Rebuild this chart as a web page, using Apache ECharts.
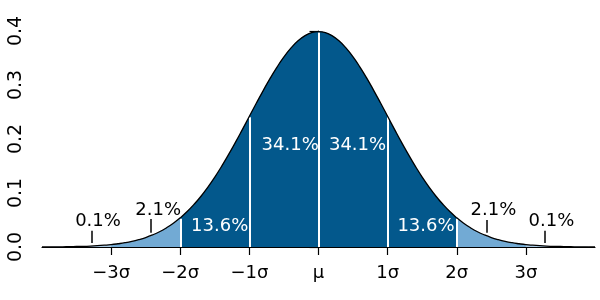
<!DOCTYPE html>
<html><head><meta charset="utf-8">
<script src="https://cdn.jsdelivr.net/npm/echarts@6/dist/echarts.min.js"></script>
<style>html,body{margin:0;padding:0;background:#fff}#c{width:600px;height:300px}</style>
</head><body><div id="c"></div>
<script>
// Curve samples (standard normal density), x in sigma units
const curveX = [-4.0,-3.9,-3.8,-3.7,-3.6,-3.5,-3.4,-3.3,-3.2,-3.1,-3.0,-2.9,-2.8,-2.7,-2.6,-2.5,-2.4,-2.3,-2.2,-2.1,-2.0,-1.9,-1.8,-1.7,-1.6,-1.5,-1.4,-1.3,-1.2,-1.1,-1.0,-0.9,-0.8,-0.7,-0.6,-0.5,-0.4,-0.3,-0.2,-0.1,0.0,0.1,0.2,0.3,0.4,0.5,0.6,0.7,0.8,0.9,1.0,1.1,1.2,1.3,1.4,1.5,1.6,1.7,1.8,1.9,2.0,2.1,2.2,2.3,2.4,2.5,2.6,2.7,2.8,2.9,3.0,3.1,3.2,3.3,3.4,3.5,3.6,3.7,3.8,3.9,4.0];
const curveY = [0.0001,0.0002,0.0003,0.0004,0.0006,0.0009,0.0012,0.0017,0.0024,0.0033,0.0044,0.0060,0.0079,0.0104,0.0136,0.0175,0.0224,0.0283,0.0355,0.0440,0.0540,0.0656,0.0790,0.0940,0.1109,0.1295,0.1497,0.1714,0.1942,0.2179,0.2420,0.2661,0.2897,0.3123,0.3332,0.3521,0.3683,0.3814,0.3910,0.3970,0.3989,0.3970,0.3910,0.3814,0.3683,0.3521,0.3332,0.3123,0.2897,0.2661,0.2420,0.2179,0.1942,0.1714,0.1497,0.1295,0.1109,0.0940,0.0790,0.0656,0.0540,0.0440,0.0355,0.0283,0.0224,0.0175,0.0136,0.0104,0.0079,0.0060,0.0044,0.0033,0.0024,0.0017,0.0012,0.0009,0.0006,0.0004,0.0003,0.0002,0.0001];

const xTickValues = [-3,-2,-1,0,1,2,3];
const xTickLabels = ['\u22123\u03c3','\u22122\u03c3','\u22121\u03c3','\u03bc','1\u03c3','2\u03c3','3\u03c3'];
const yTickValues = [0,0.1,0.2,0.3,0.4];
const dividerX = [-2,-1,0,1,2];

// percentage labels: [x, y, text]
const innerLabels = [[-0.41,0.189,'34.1%'],[0.565,0.189,'34.1%'],[-1.43,0.039,'13.6%'],[1.555,0.039,'13.6%']];
const outerLabels = [[-2.32,0.067,'2.1%'],[2.53,0.067,'2.1%'],[-3.19,0.047,'0.1%'],[3.37,0.047,'0.1%']];
// pointer ticks: [x, yTop, yBottom]
const pointers = [[-2.43,0.052,0.0265],[2.44,0.050,0.0265],[-3.28,0.030,0.0074],[3.28,0.030,0.0074]];

const DARK = '#03588c', LIGHT = '#72aad4', PALE = '#a9cbe6';
const FONT = 'DejaVu Sans';

function pts(lo, hi) {
  const out = [];
  curveX.forEach((x, i) => { if (x >= lo - 1e-9 && x <= hi + 1e-9) out.push([x, curveY[i]]); });
  return out;
}
function area(lo, hi, color) {
  return { type: 'line', data: pts(lo, hi), smooth: true, symbol: 'none', lineStyle: { width: 0 },
    areaStyle: { color: color, opacity: 1 }, silent: true, z: 2 };
}
const yAt = x => curveY[curveX.findIndex(v => Math.abs(v - x) < 1e-9)];
function labelSeries(list, color) {
  return { type: 'scatter', symbolSize: 1, z: 7, silent: true,
    itemStyle: { opacity: 0 },
    data: list.map(d => ({ value: [d[0], d[1]], name: d[2] })),
    label: { show: true, position: 'inside', formatter: p => p.name, color: color, opacity: 1,
      textBorderWidth: 0, fontFamily: FONT, fontSize: 18 } };
}

const chart = echarts.init(document.getElementById('c'), null, { renderer: 'canvas' });
chart.setOption({
  animation: false,
  grid: { left: 42, right: 5, top: 31, bottom: 53 },
  xAxis: {
    type: 'value', min: -4, max: 4, interval: 1,
    axisLine: { lineStyle: { color: '#000', width: 1.2 } },
    axisTick: { customValues: xTickValues, length: 8, lineStyle: { color: '#000', width: 1.2 } },
    axisLabel: { customValues: xTickValues, color: '#000', fontFamily: FONT, fontSize: 18, margin: 17,
      formatter: v => xTickLabels[xTickValues.indexOf(Math.round(v))] },
    splitLine: { show: false }
  },
  yAxis: {
    type: 'value', min: 0, max: 0.4, interval: 0.1,
    axisLine: { show: true, lineStyle: { color: '#000', width: 1.2 } },
    axisTick: { show: true, length: 9, lineStyle: { color: '#000', width: 1.2 } },
    axisLabel: { color: '#000', fontFamily: FONT, fontSize: 19, rotate: 90, margin: 16,
      formatter: v => v.toFixed(1) },
    splitLine: { show: false }
  },
  series: [
    area(-4, -3, PALE), area(3, 4, PALE),
    area(-3, -2, LIGHT), area(2, 3, LIGHT),
    area(-2, 2, DARK),
    { type: 'line', data: pts(-4, 4), smooth: true, symbol: 'none', z: 5,
      lineStyle: { color: '#000', width: 1.3 },
      markLine: { silent: true, symbol: 'none', label: { show: false }, lineStyle: { color: '#fff', width: 2, type: 'solid' },
        data: dividerX.map(x => [{ coord: [x, 0] }, { coord: [x, yAt(x) - 0.0015] }]) } },
    { type: 'line', data: [], z: 6,
      markLine: { silent: true, symbol: 'none', label: { show: false }, lineStyle: { color: '#000', width: 1.5, type: 'solid' },
        data: pointers.map(p => [{ coord: [p[0], p[1]] }, { coord: [p[0], p[2]] }]) } },
    labelSeries(innerLabels, '#fff'),
    labelSeries(outerLabels, '#000')
  ]
});
</script></body></html>
